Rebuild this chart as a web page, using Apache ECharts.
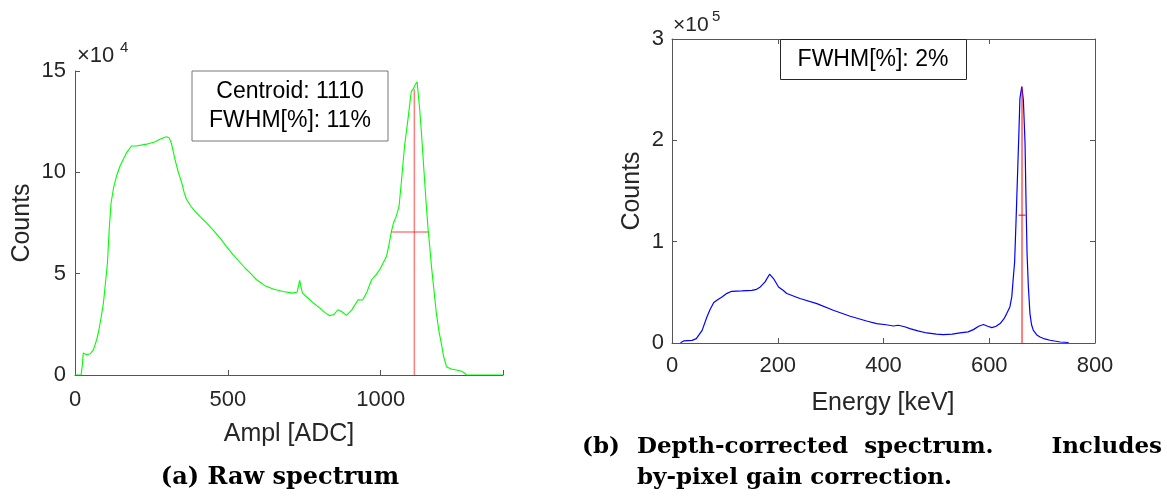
<!DOCTYPE html>
<html>
<head>
<meta charset="utf-8">
<script src="https://cdn.jsdelivr.net/npm/echarts@6/dist/echarts.min.js"></script>
<style>
html,body{margin:0;padding:0;background:#fff;}
#c{width:1167px;height:496px;}
</style>
</head>
<body>
<div id="c"></div>
<script>
// ---------- (a) Raw spectrum : counts in units of 1e4 ----------
const rawX = [0,20,24,27,32,38,50,60,70,76,85,93,100,106,112,118,127,136,147,158,170,185,200,234,260,278,292,300,308,315,327,338,349,357,365,378,392,410,430,452,474,495,517,537,556,575,594,620,648,680,713,727,735,740,744,762,780,801,818,833,848,860,873,888,905,926,941,955,970,985,997,1008,1019,1026,1035,1042,1051,1060,1068,1078,1089,1100,1106,1112,1119,1127,1133,1140,1148,1155,1160,1166,1174,1182,1190,1198,1206,1215,1230,1247,1262,1272,1280,1400];
const rawY = [0,0,0.5,1.08,1.1,1.0,1.05,1.24,1.7,2.06,2.8,3.55,4.6,5.5,7.2,8.5,9.3,9.82,10.3,10.64,11.0,11.3,11.3,11.39,11.5,11.63,11.72,11.76,11.7,11.45,10.64,10.0,9.49,9.0,8.66,8.35,8.09,7.8,7.51,7.15,6.77,6.35,5.94,5.6,5.28,5.0,4.7,4.42,4.24,4.12,4.04,4.1,4.67,4.3,4.04,3.8,3.55,3.3,3.08,2.92,3.0,3.22,3.12,2.94,3.2,3.71,3.7,4.1,4.7,4.95,5.2,5.53,5.86,6.35,7.09,7.51,7.84,8.33,9.6,11.3,12.6,14.0,14.1,14.3,14.47,13.2,12.0,10.4,8.6,7.18,6.4,5.36,4.2,3.05,2.2,1.57,0.9,0.41,0.3,0.25,0.2,0.12,0,0];
const rawFwhmV = [[1110,0],[1110,14.1]];
const rawFwhmH = [[1035,7.06],[1155,7.06]];
const rawXTicks = [0,500,1000];
const rawYTicks = [0,5,10,15];

// ---------- (b) Depth-corrected spectrum : counts in units of 1e5 ----------
const corrX = [16,22,38,46,57,66,72,79,87,94.5,104,113,132,151,160,167,176,184.5,188,192,201.5,210,217,242,274,305,337,368,387,405,419,428,440,450,465,482,500,513,530,545,560,570,580,589,597,605,613,620.5,628,633,639,642.6,645.6,648,650.7,654,656.4,658,661.5,664.5,667.7,669.6,671.5,674,677,680,683.4,690,696,705,715,734,750];
const corrY = [0.003,0.02,0.026,0.043,0.125,0.257,0.33,0.399,0.43,0.455,0.49,0.51,0.514,0.52,0.53,0.553,0.603,0.679,0.665,0.636,0.553,0.52,0.488,0.439,0.389,0.323,0.264,0.217,0.192,0.18,0.168,0.175,0.16,0.142,0.12,0.099,0.088,0.083,0.088,0.099,0.11,0.132,0.165,0.182,0.165,0.152,0.165,0.192,0.24,0.29,0.356,0.455,0.652,0.8,1.21,1.74,2.13,2.415,2.53,2.40,1.97,1.38,0.883,0.553,0.29,0.18,0.125,0.08,0.059,0.04,0.027,0.01,0.005];
const corrFwhmV = [[662,0],[662,2.53]];
const corrFwhmH = [[655.5,1.26],[668.5,1.26]];
const corrXTicks = [0,200,400,600,800];
const corrYTicks = [0,1,2,3];

const zip = (xs, ys) => xs.map((x, i) => [x, ys[i]]);

const AX = '#555555';
const TXT = '#262626';
const SANS = '"Liberation Sans", Arial, Helvetica, sans-serif';
const SERIF = '"DejaVu Serif", serif';

function valAxis(grid, pos, min, max, interval, ticks, showLabel, margin) {
  return {
    type: 'value', gridIndex: grid, position: pos, min: min, max: max, interval: interval,
    axisLine: {show: true, onZero: false, lineStyle: {color: AX, width: 1}},
    axisTick: {show: true, inside: true, length: 5, lineStyle: {color: AX}},
    splitLine: {show: false},
    axisLabel: {
      show: showLabel, fontSize: 22, color: TXT, fontFamily: SANS, margin: margin,
      formatter: v => ticks.includes(v) ? String(v) : ''
    }
  };
}

const chart = echarts.init(document.getElementById('c'), null, {renderer: 'canvas'});
const red = 'rgba(255,0,0,0.5)';

chart.setOption({
  animation: false,
  backgroundColor: '#ffffff',
  grid: [
    {left: 75, top: 71, width: 428, height: 304},
    {left: 672, top: 39, width: 423, height: 304}
  ],
  xAxis: [
    valAxis(0, 'bottom', 0, 1400, 500, rawXTicks, true, 14),
    valAxis(1, 'bottom', 0, 800, 200, corrXTicks, true, 12),
    valAxis(1, 'top', 0, 800, 200, corrXTicks, false, 8)
  ],
  yAxis: [
    valAxis(0, 'left', 0, 15, 5, rawYTicks, true, 9),
    valAxis(1, 'left', 0, 3, 1, corrYTicks, true, 8),
    valAxis(1, 'right', 0, 3, 1, corrYTicks, false, 8)
  ],
  series: [
    {type: 'line', xAxisIndex: 0, yAxisIndex: 0, data: zip(rawX, rawY), showSymbol: false, symbol: 'none',
     lineStyle: {color: '#00ff00', width: 1.1}, itemStyle: {color: '#00ff00'}},
    {type: 'line', xAxisIndex: 0, yAxisIndex: 0, data: rawFwhmV, symbol: 'none', lineStyle: {color: red, width: 1.5}},
    {type: 'line', xAxisIndex: 0, yAxisIndex: 0, data: rawFwhmH, symbol: 'none', lineStyle: {color: red, width: 1.5}},
    {type: 'line', xAxisIndex: 1, yAxisIndex: 1, data: zip(corrX, corrY), symbol: 'none',
     lineStyle: {color: '#0000ff', width: 1.2}, itemStyle: {color: '#0000ff'}},
    {type: 'line', xAxisIndex: 1, yAxisIndex: 1, data: corrFwhmV, symbol: 'none', lineStyle: {color: red, width: 2}},
    {type: 'line', xAxisIndex: 1, yAxisIndex: 1, data: corrFwhmH, symbol: 'none', lineStyle: {color: 'rgba(255,0,0,0.7)', width: 1.5}}
  ],
  graphic: [
    // exponent labels
    {type: 'text', left: 77, top: 45, style: {text: '×10', fontSize: 22, fill: TXT, fontFamily: SANS}},
    {type: 'text', left: 120, top: 40, style: {text: '4', fontSize: 15, fill: TXT, fontFamily: SANS}},
    {type: 'text', left: 673, top: 15, style: {text: '×10', fontSize: 21, fill: TXT, fontFamily: SANS}},
    {type: 'text', left: 712, top: 9, style: {text: '5', fontSize: 15, fill: TXT, fontFamily: SANS}},
    // axis names
    {type: 'text', x: 22, y: 223, rotation: Math.PI / 2,
     style: {text: 'Counts', fontSize: 25, fill: TXT, fontFamily: SANS, align: 'center', verticalAlign: 'middle'}},
    {type: 'text', x: 632, y: 191, rotation: Math.PI / 2,
     style: {text: 'Counts', fontSize: 25, fill: TXT, fontFamily: SANS, align: 'center', verticalAlign: 'middle'}},
    {type: 'text', x: 289, y: 434,
     style: {text: 'Ampl [ADC]', fontSize: 25, fill: TXT, fontFamily: SANS, align: 'center', verticalAlign: 'middle'}},
    {type: 'text', x: 883, y: 403,
     style: {text: 'Energy [keV]', fontSize: 25, fill: TXT, fontFamily: SANS, align: 'center', verticalAlign: 'middle'}},
    // annotation boxes
    {type: 'rect', shape: {x: 192, y: 71, width: 196, height: 70}, style: {fill: '#ffffff', stroke: '#777777', lineWidth: 1}, z: 100},
    {type: 'text', x: 290, y: 92, z: 101,
     style: {text: 'Centroid: 1110', fontSize: 23, fill: '#000000', fontFamily: SANS, align: 'center', verticalAlign: 'middle'}},
    {type: 'text', x: 290, y: 121, z: 101,
     style: {text: 'FWHM[%]: 11%', fontSize: 23, fill: '#000000', fontFamily: SANS, align: 'center', verticalAlign: 'middle'}},
    {type: 'rect', shape: {x: 780.5, y: 39.5, width: 186, height: 40}, style: {fill: '#ffffff', stroke: '#262626', lineWidth: 1}, z: 100},
    {type: 'text', x: 873, y: 60, z: 101,
     style: {text: 'FWHM[%]: 2%', fontSize: 23, fill: '#000000', fontFamily: SANS, align: 'center', verticalAlign: 'middle'}},
    // captions
    {type: 'text', x: 280, y: 478,
     style: {text: '(a) Raw spectrum', fontSize: 24, fontWeight: 'bold', fill: '#000000', fontFamily: SERIF, align: 'center', verticalAlign: 'middle'}},
    {type: 'text', x: 582, y: 447,
     style: {text: '(b)', fontSize: 23, fontWeight: 'bold', fill: '#000000', fontFamily: SERIF, align: 'left', verticalAlign: 'middle'}},
    {type: 'text', x: 637, y: 447,
     style: {text: 'Depth-corrected  spectrum.', fontSize: 23, fontWeight: 'bold', fill: '#000000', fontFamily: SERIF, align: 'left', verticalAlign: 'middle'}},
    {type: 'text', x: 1162, y: 447,
     style: {text: 'Includes', fontSize: 23, fontWeight: 'bold', fill: '#000000', fontFamily: SERIF, align: 'right', verticalAlign: 'middle'}},
    {type: 'text', x: 637, y: 478,
     style: {text: 'by-pixel gain correction.', fontSize: 23, fontWeight: 'bold', fill: '#000000', fontFamily: SERIF, align: 'left', verticalAlign: 'middle'}}
  ]
});
</script>
</body>
</html>
